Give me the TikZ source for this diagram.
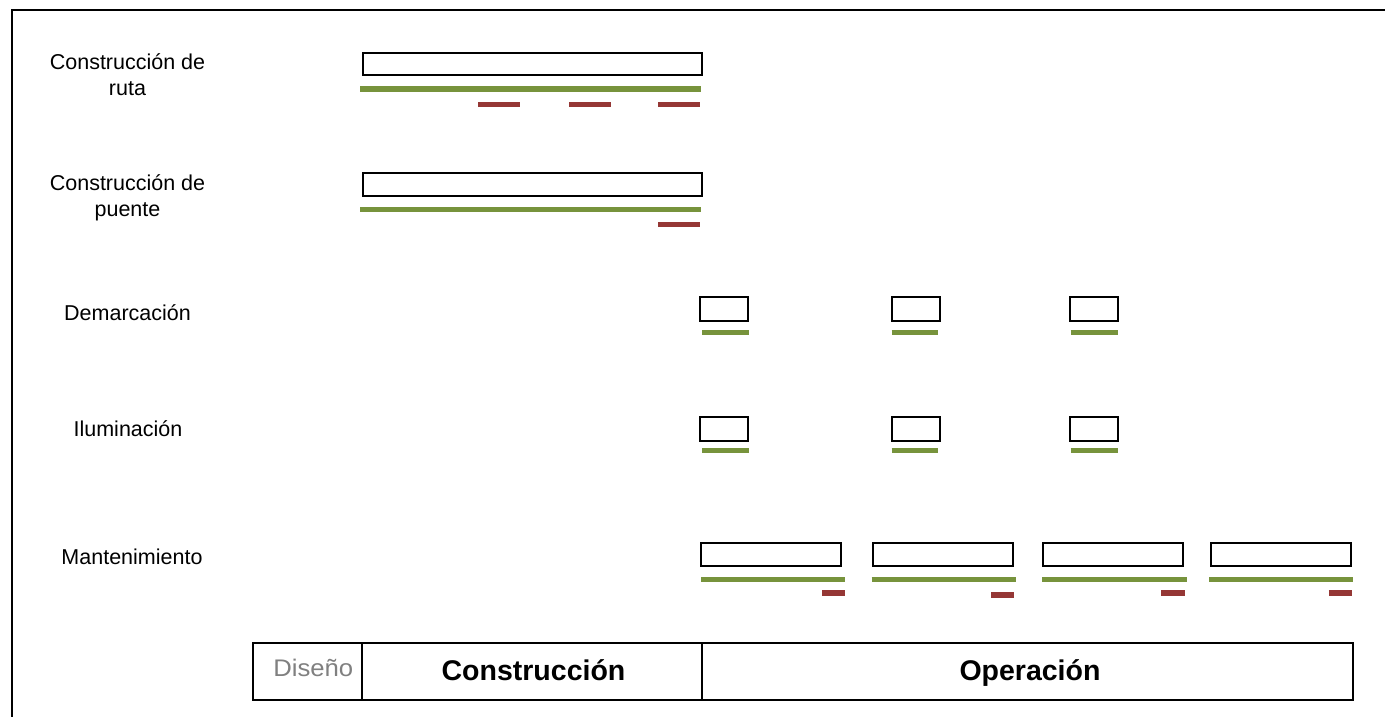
\documentclass[tikz,border=0pt]{standalone}
\usepackage{fontspec}
\setmainfont{Liberation Sans}
\definecolor{barg}{HTML}{77933C}
\definecolor{barr}{HTML}{953735}
\definecolor{gtext}{HTML}{808080}
\begin{document}
\begin{tikzpicture}[x=1pt,y=-1pt,
  task/.style={draw=black,line width=2pt,fill=white,rectangle,inner sep=0pt},
  gbar/.style={draw=barg,line width=5.3pt},
  rbar/.style={draw=barr,line width=5.3pt},
  lbl/.style={font=\fontsize{21.5}{26}\selectfont,anchor=base,inner sep=0pt},
  phase/.style={draw=black,line width=2pt,rectangle,inner sep=0pt,minimum height=56.7pt},
  ptext/.style={font=\fontsize{28.5}{32}\selectfont\bfseries,anchor=base,inner sep=0pt}]
\useasboundingbox (0,0) rectangle (1385,717);
\fill[white] (0,0) rectangle (1385,717);
% outer frame (cut at right and bottom)
\draw[line width=2pt] (1385,10) -- (11.5,10) -- (11.5,717);

% row labels
\node[lbl] (l1a) at (127.5,69.5) {Construcción de};
\node[lbl] (l1b) at (127.5,95.5) {ruta};
\node[lbl] (l2a) at (127.5,190.5) {Construcción de};
\node[lbl] (l2b) at (127.5,216) {puente};
\node[lbl] (l3) at (127.5,320.7) {Demarcación};
\node[lbl] (l4) at (128,436.7) {Iluminación};
\node[lbl] (l5) at (132,564) {Mantenimiento};

% row 1: Construccion de ruta
\node[task,minimum width=339pt,minimum height=21.7pt] (r1) at (532.2,64.2) {};
\draw[gbar] (360,89) -- (700.7,89);
\draw[rbar] (478.3,104.7) -- (520,104.7);
\draw[rbar] (569.3,104.7) -- (610.7,104.7);
\draw[rbar] (658.3,104.7) -- (700,104.7);

% row 2: Construccion de puente
\node[task,minimum width=339pt,minimum height=23pt] (r2) at (532.2,184.2) {};
\draw[gbar] (360,209.3) -- (700.7,209.3);
\draw[rbar] (658.3,224.7) -- (700,224.7);

% row 3: Demarcacion
\node[task,minimum width=48pt,minimum height=23.7pt] (r3a) at (724.3,308.8) {};
\node[task,minimum width=48pt,minimum height=23.7pt] (r3b) at (916,308.8) {};
\node[task,minimum width=48pt,minimum height=23.7pt] (r3c) at (1094,308.8) {};
\draw[gbar] (702,332.3) -- (748.7,332.3);
\draw[gbar] (891.7,332.3) -- (938.3,332.3);
\draw[gbar] (1070.7,332.3) -- (1117.7,332.3);

% row 4: Iluminacion
\node[task,minimum width=48pt,minimum height=23.7pt] (r4a) at (724.3,428.8) {};
\node[task,minimum width=48pt,minimum height=23.7pt] (r4b) at (916,428.8) {};
\node[task,minimum width=48pt,minimum height=23.7pt] (r4c) at (1094,428.8) {};
\draw[gbar] (702,450.7) -- (748.7,450.7);
\draw[gbar] (891.7,450.7) -- (938.3,450.7);
\draw[gbar] (1070.7,450.7) -- (1117.7,450.7);

% row 5: Mantenimiento
\node[task,minimum width=140pt,minimum height=23pt] (r5a) at (771,554.2) {};
\node[task,minimum width=140pt,minimum height=23pt] (r5b) at (942.9,554.2) {};
\node[task,minimum width=140pt,minimum height=23pt] (r5c) at (1112.9,554.2) {};
\node[task,minimum width=140pt,minimum height=23pt] (r5d) at (1280.8,554.2) {};
\draw[gbar] (701,579.5) -- (845,579.5);
\draw[gbar] (871.5,579.5) -- (1016,579.5);
\draw[gbar] (1042.4,579.5) -- (1186.5,579.5);
\draw[gbar] (1209,579.5) -- (1353.4,579.5);
\draw[rbar] (822,593) -- (845,593);
\draw[rbar] (991,595) -- (1014,595);
\draw[rbar] (1161,593) -- (1184.7,593);
\draw[rbar] (1328.8,593) -- (1351.7,593);

% phases
\node[phase,minimum width=109.3pt] (pdis) at (307.4,671.4) {};
\node[phase,minimum width=339.7pt] (pcon) at (531.9,671.4) {};
\node[phase,minimum width=651.3pt] (pope) at (1027.4,671.4) {};
\node[anchor=base,inner sep=0pt,text=gtext,font=\fontsize{24}{28}\selectfont] (tdis) at (313.3,676.7) {\scalebox{1.07}[1]{Diseño}};
\node[ptext] (tcon) at (533.5,680) {Construcción};
\node[ptext] (tope) at (1030,680) {Operación};
\end{tikzpicture}
\end{document}
